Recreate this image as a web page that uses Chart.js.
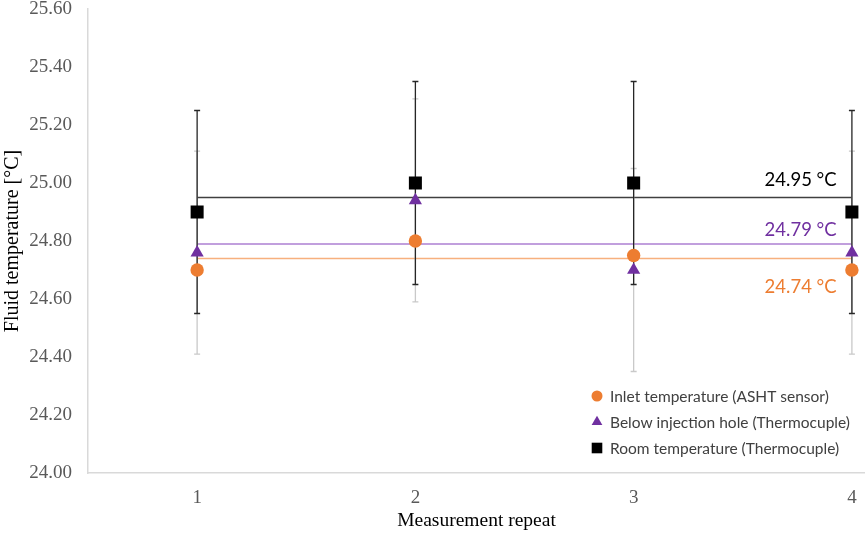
<!DOCTYPE html>
<html>
<head>
<meta charset="utf-8">
<title>Fluid temperature per measurement repeat</title>
<script src="https://cdn.jsdelivr.net/npm/chart.js@4.4.1/dist/chart.umd.min.js"></script>
<style>
  html, body { margin: 0; padding: 0; background: #fff; }
  #wrap { width: 865px; height: 534px; }
</style>
</head>
<body>
<div id="wrap"><canvas id="tempChart"></canvas></div>
<script>
// values
const repeats = [1, 2, 3, 4];
const inletTemp = [24.70, 24.80, 24.75, 24.70];
const belowHoleTemp = [24.76, 24.94, 24.70, 24.76];
const roomTemp = [24.90, 25.00, 25.00, 24.90];
const belowHoleErr = [0.35, 0.35, 0.35, 0.35];
const roomErr = [0.35, 0.35, 0.35, 0.35];
const meanTemps = [24.74, 24.79, 24.95];
const meanLabels = ['24.74 °C', '24.79 °C', '24.95 °C'];
const seriesNames = [
  'Inlet temperature (ASHT sensor)',
  'Below injection hole (Thermocuple)',
  'Room temperature (Thermocuple)'
];
const yTicks = [24.0, 24.2, 24.4, 24.6, 24.8, 25.0, 25.2, 25.4, 25.6];

const orange = '#ed7d31';
const purple = '#7030a0';
const serif = "'Liberation Serif', 'Times New Roman', serif";
const sans = "Lato, 'Open Sans', sans-serif";

const toPoints = (vals) => repeats.map((x, i) => ({ x, y: vals[i] }));
const flatLine = (v) => [{ x: repeats[0], y: v }, { x: repeats[repeats.length - 1], y: v }];

// error bars go under all markers but over the mean lines
const errorBars = {
  id: 'errorBars',
  beforeDatasetsDraw(chart) { chart.$errDone = false; },
  beforeDatasetDraw(chart, args) {
    const ds = chart.data.datasets[args.index];
    if (chart.$errDone || !ds.marker) return;
    chart.$errDone = true;
    const { ctx, scales: { x, y } } = chart;
    ctx.save();
    chart.data.datasets.forEach(d => {
      if (!d.errors) return;
      ctx.strokeStyle = d.errorColor;
      ctx.lineWidth = 1.3;
      d.data.forEach((p, i) => {
        const px = x.getPixelForValue(p.x);
        const top = y.getPixelForValue(p.y + d.errors[i]);
        const bot = y.getPixelForValue(p.y - d.errors[i]);
        ctx.beginPath();
        ctx.moveTo(px, top); ctx.lineTo(px, bot);
        ctx.moveTo(px - 3, top); ctx.lineTo(px + 3, top);
        ctx.moveTo(px - 3, bot); ctx.lineTo(px + 3, bot);
        ctx.stroke();
      });
    });
    ctx.restore();
  }
};

// "24.95 °C" style labels next to the mean lines
const meanText = {
  id: 'meanText',
  afterDatasetsDraw(chart) {
    const { ctx, scales: { x, y } } = chart;
    ctx.save();
    ctx.font = '18.5px ' + sans;
    ctx.textAlign = 'right';
    ctx.textBaseline = 'middle';
    chart.data.datasets.forEach(d => {
      if (!d.meanLabel) return;
      ctx.fillStyle = d.labelColor;
      ctx.fillText(d.meanLabel, x.getPixelForValue(3.93), y.getPixelForValue(d.data[0].y) + d.labelShift);
    });
    ctx.restore();
  }
};

// legend sits inside the plot, bottom right
const innerLegend = {
  id: 'innerLegend',
  afterDraw(chart) {
    const { ctx, chartArea } = chart;
    const markers = chart.data.datasets.filter(d => d.marker);
    const mx = chartArea.left + 509;
    ctx.save();
    ctx.font = '15.5px ' + sans;
    ctx.textBaseline = 'middle';
    markers.forEach((d, i) => {
      const my = chartArea.bottom - 77 + i * 26;
      ctx.fillStyle = d.backgroundColor;
      Chart.helpers.drawPoint(ctx, { pointStyle: d.pointStyle, radius: d.legendRadius, rotation: 0, borderWidth: 0 }, mx, my);
      ctx.fillStyle = '#404040';
      ctx.fillText(d.label, mx + 13, my + 1);
    });
    ctx.restore();
  }
};

new Chart(document.getElementById('tempChart'), {
  type: 'scatter',
  data: {
    datasets: [
      {
        label: seriesNames[0], marker: true, data: toPoints(inletTemp),
        pointStyle: 'circle', pointRadius: 6.7, legendRadius: 5.5,
        backgroundColor: orange, borderColor: orange, borderWidth: 0, order: 0
      },
      {
        label: seriesNames[1], marker: true, data: toPoints(belowHoleTemp),
        errors: belowHoleErr, errorColor: '#c9c9c9',
        pointStyle: 'triangle', pointRadius: 7.6, legendRadius: 6.2,
        backgroundColor: purple, borderColor: purple, borderWidth: 0, order: 0
      },
      {
        label: seriesNames[2], marker: true, data: toPoints(roomTemp),
        errors: roomErr, errorColor: '#262626',
        pointStyle: 'rect', pointRadius: 9.2, legendRadius: 7.5,
        backgroundColor: '#000', borderColor: '#000', borderWidth: 0, order: 0
      },
      {
        type: 'line', data: flatLine(meanTemps[0]), meanLabel: meanLabels[0],
        labelColor: orange, labelShift: 29,
        borderColor: '#f7b07e', borderWidth: 1.5, pointRadius: 0, order: 1
      },
      {
        type: 'line', data: flatLine(meanTemps[1]), meanLabel: meanLabels[1],
        labelColor: purple, labelShift: -14,
        borderColor: '#ad7fd2', borderWidth: 1.5, pointRadius: 0, order: 1
      },
      {
        type: 'line', data: flatLine(meanTemps[2]), meanLabel: meanLabels[2],
        labelColor: '#000', labelShift: -17,
        borderColor: '#404040', borderWidth: 1.5, pointRadius: 0, order: 1
      }
    ]
  },
  options: {
    responsive: true,
    maintainAspectRatio: false,
    animation: false,
    layout: { autoPadding: false, padding: 0 },
    plugins: {
      legend: { display: false },
      tooltip: { enabled: false }
    },
    scales: {
      x: {
        type: 'linear',
        min: 0.5,
        max: 4.06,
        afterBuildTicks: axis => { axis.ticks = repeats.map(v => ({ value: v })); },
        afterFit: axis => { axis.height = 61; axis.paddingLeft = 0; axis.paddingRight = 0; },
        grid: { display: false, drawTicks: false },
        border: { display: true, color: '#d9d9d9', width: 1.5 },
        ticks: { color: '#595959', font: { family: serif, size: 19 }, padding: 14 },
        title: {
          display: true, text: 'Measurement repeat', color: '#000',
          font: { family: serif, size: 19.5 }, padding: { top: 0, bottom: 1 }
        }
      },
      y: {
        min: 24,
        max: 25.6,
        afterBuildTicks: axis => { axis.ticks = yTicks.map(v => ({ value: v })); },
        afterFit: axis => { axis.width = 88; axis.paddingTop = 9; axis.paddingBottom = 0; },
        grid: { display: false, drawTicks: false },
        border: { display: true, color: '#d9d9d9', width: 1.5 },
        ticks: {
          color: '#595959', font: { family: serif, size: 19 }, padding: 16,
          callback: v => v.toFixed(2)
        },
        title: {
          display: true, text: 'Fluid temperature [°C]', color: '#000',
          font: { family: serif, size: 20 }, padding: { top: 1, bottom: 0 }
        }
      }
    }
  },
  plugins: [errorBars, meanText, innerLegend]
});
</script>
</body>
</html>
